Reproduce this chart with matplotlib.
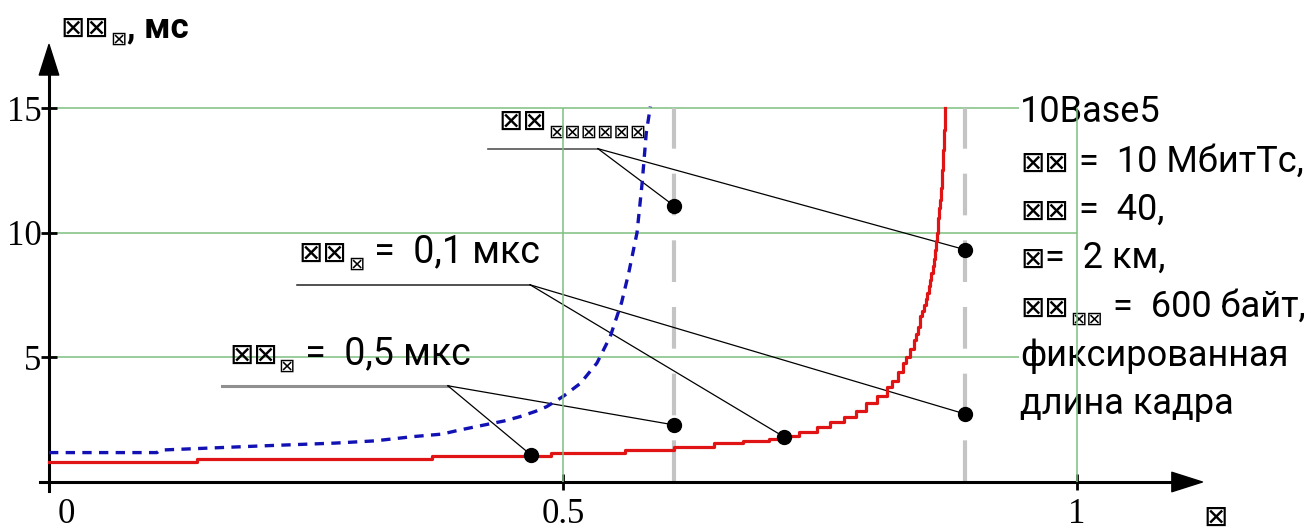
import matplotlib
matplotlib.use("Agg")
import matplotlib.pyplot as plt
from matplotlib.transforms import ScaledTranslation

# ---------------- data ----------------
red_x = [0.0, 0.144, 0.373, 0.488, 0.560, 0.608, 0.647, 0.675, 0.700, 0.714, 0.730,
         0.747, 0.760, 0.773, 0.785, 0.795, 0.805, 0.815, 0.820, 0.826, 0.831, 0.834,
         0.838, 0.841, 0.843, 0.845, 0.847, 0.849, 0.851, 0.853, 0.854, 0.856, 0.857,
         0.858, 0.860, 0.861, 0.862, 0.863, 0.864, 0.865, 0.866, 0.867, 0.868, 0.869,
         0.870, 0.871, 0.872]
red_y = [0.82, 0.92, 1.04, 1.18, 1.28, 1.42, 1.56, 1.64, 1.74, 1.84, 2.00,
         2.22, 2.40, 2.62, 2.85, 3.16, 3.45, 3.83, 4.05, 4.40, 4.77, 5.00,
         5.35, 5.70, 5.95, 6.20, 6.64, 6.85, 7.10, 7.35, 7.58, 7.85, 8.10,
         8.40, 8.65, 8.95, 9.30, 9.65, 10.0, 10.6, 11.0, 11.3, 11.8, 12.5,
         13.3, 14.1, 15.0]

blue_x = [0.0, 0.105, 0.108, 0.208, 0.278, 0.317, 0.354, 0.382, 0.400, 0.432, 0.443,
          0.458, 0.473, 0.484, 0.500, 0.517, 0.533, 0.546, 0.557, 0.564, 0.572,
          0.577, 0.581, 0.585]
blue_y = [1.18, 1.18, 1.28, 1.45, 1.56, 1.65, 1.82, 1.92, 2.09, 2.36, 2.45,
          2.62, 2.83, 3.02, 3.43, 3.96, 4.77, 5.84, 7.20, 8.40, 10.0,
          12.0, 14.0, 15.06]

marker_x = [0.608, 0.891]          # gray dashed verticals
dot_x = [0.469, 0.608, 0.608, 0.715, 0.891, 0.891]
dot_y = [1.08, 2.29, 11.08, 1.81, 2.73, 9.32]

# label underline segments (x0, x1, y) and the dots each label points to
lab_T = (0.427, 0.534, 13.37, [2, 5])
lab_01 = (0.241, 0.468, 7.91, [3, 4])
lab_05 = (0.168, 0.388, 3.86, [0, 1])

x_ticks = [0, 0.5, 1]
x_ticklabels = ["0", "0.5", "1"]
y_ticks = [5, 10, 15]
y_ticklabels = ["5", "10", "15"]

BOX = "\u22a0"

# ---------------- figure ----------------
W, H = 1312, 532
fig = plt.figure(figsize=(W / 100, H / 100), dpi=100)
ax = fig.add_axes([0, 0, 1, 1])
ax.set_xlim(-49 / 1028, (W - 49) / 1028)
ax.set_ylim((482 - 532) / 24.93, 482 / 24.93)

for s in ("top", "right"):
    ax.spines[s].set_visible(False)
ax.spines["left"].set_position(("data", 0))
ax.spines["bottom"].set_position(("data", 0))
ax.spines["left"].set_bounds(-0.35, 17.0)
ax.spines["bottom"].set_bounds(-0.009, 1.10)
ax.spines["left"].set_linewidth(2.2)
ax.spines["bottom"].set_linewidth(2.2)
ax.patch.set_visible(False)

# arrow heads
ax.annotate("", xy=(0, 17.55), xytext=(0, 16.0),
            arrowprops=dict(facecolor="black", edgecolor="black", width=0.1,
                            headwidth=14, headlength=22, shrink=0))
ax.annotate("", xy=(1.122, 0), xytext=(1.06, 0),
            arrowprops=dict(facecolor="black", edgecolor="black", width=0.1,
                            headwidth=14, headlength=22, shrink=0))

ax.set_xticks(x_ticks)
ax.set_xticklabels(x_ticklabels, fontfamily="Liberation Serif", fontsize=25)
ax.set_yticks(y_ticks)
ax.set_yticklabels(y_ticklabels, fontfamily="Liberation Serif", fontsize=25)
ax.tick_params(axis="both", direction="inout", length=11, width=2)
ax.tick_params(axis="x", pad=6)
ax.tick_params(axis="y", pad=0)
# the "0" label sits a little right of its tick in the reference
lab0 = ax.get_xticklabels()[0]
lab0.set_transform(lab0.get_transform() + ScaledTranslation(17 / 100, 0, fig.dpi_scale_trans))

green = "#7fbf7f"
ax.hlines(y_ticks, 0, 1.0, colors=green, lw=1.1, zorder=1)
ax.vlines([0.5, 1.0], 0, 15, colors=green, lw=1.1, zorder=6)

ax.vlines(marker_x, 0, 15, colors="#c4c4c4", lw=3, linestyles=(0, (10, 6)), zorder=2)

ax.plot(red_x, red_y, drawstyle="steps-post", color="#e01414", lw=2.3, zorder=4)
ax.plot(blue_x, blue_y, color="#1212b4", lw=2.4, linestyle=(0, (2.8, 2.2)), zorder=4)

for (x0, x1, y, targets), col, lw in ((lab_T, "#555555", 1.2),
                                      (lab_01, "#222222", 1.1),
                                      (lab_05, "#909090", 2.2)):
    ax.plot([x0, x1], [y, y], color=col, lw=lw, zorder=3)
    for i in targets:
        ax.plot([x1, dot_x[i]], [y, dot_y[i]], color="black", lw=0.9, zorder=3)

ax.plot(dot_x, dot_y, "o", color="black", ms=10, zorder=7)

# ---------------- text ----------------
FS, TS, SS = 27, 21, 14
fig.canvas.draw()
renderer = fig.canvas.get_renderer()


def seq(px, py, pieces, bg=False, fs=FS, weight="normal"):
    x = px
    for s, kind in pieces:
        dy = 0
        if kind == "r":
            fam, size = ["Roboto", "DejaVu Sans"], fs
        elif kind == "t":
            fam, size = ["DejaVu Sans"], TS
        else:
            fam, size, dy = ["DejaVu Sans"], SS, 8
        kw = {}
        if bg:
            kw["bbox"] = dict(facecolor="white", edgecolor="none", pad=0.5)
        t = ax.text(x / W, 1 - (py + dy) / H, s, transform=fig.transFigure,
                    fontsize=size, family=fam, va="baseline", ha="left",
                    zorder=5, weight=weight if kind == "r" else "normal", **kw)
        x += t.get_window_extent(renderer).width + 1


# y axis title
seq(60, 37, [(BOX + BOX, "t"), (BOX, "s"), (", мс", "r")], fs=25, weight="semibold")
# x axis label
seq(1203, 526, [(BOX, "t")])

# curve labels
seq(498, 130, [(BOX + BOX, "t"), (BOX * 6, "s")])
seq(298, 262, [(BOX + BOX, "t"), (BOX, "s"), (" =  0,1 мкс", "r")])
seq(229, 364, [(BOX + BOX, "t"), (BOX, "s"), (" =  0,5 мкс", "r")])

# right block
right_lines = [
    (122, [("10Base5", "r")]),
    (172, [(BOX + BOX, "t"), (" =  10 МбитТс,", "r")]),
    (220, [(BOX + BOX, "t"), (" =  40,", "r")]),
    (268, [(BOX, "t"), ("=  2 км,", "r")]),
    (317, [(BOX + BOX, "t"), (BOX + BOX, "s"), (" =  600 байт,", "r")]),
    (366, [("фиксированная", "r")]),
    (414, [("длина кадра", "r")]),
]
for py, pieces in right_lines:
    seq(1020, py, pieces, bg=True, fs=26)

fig.savefig("out.png", dpi=100)
